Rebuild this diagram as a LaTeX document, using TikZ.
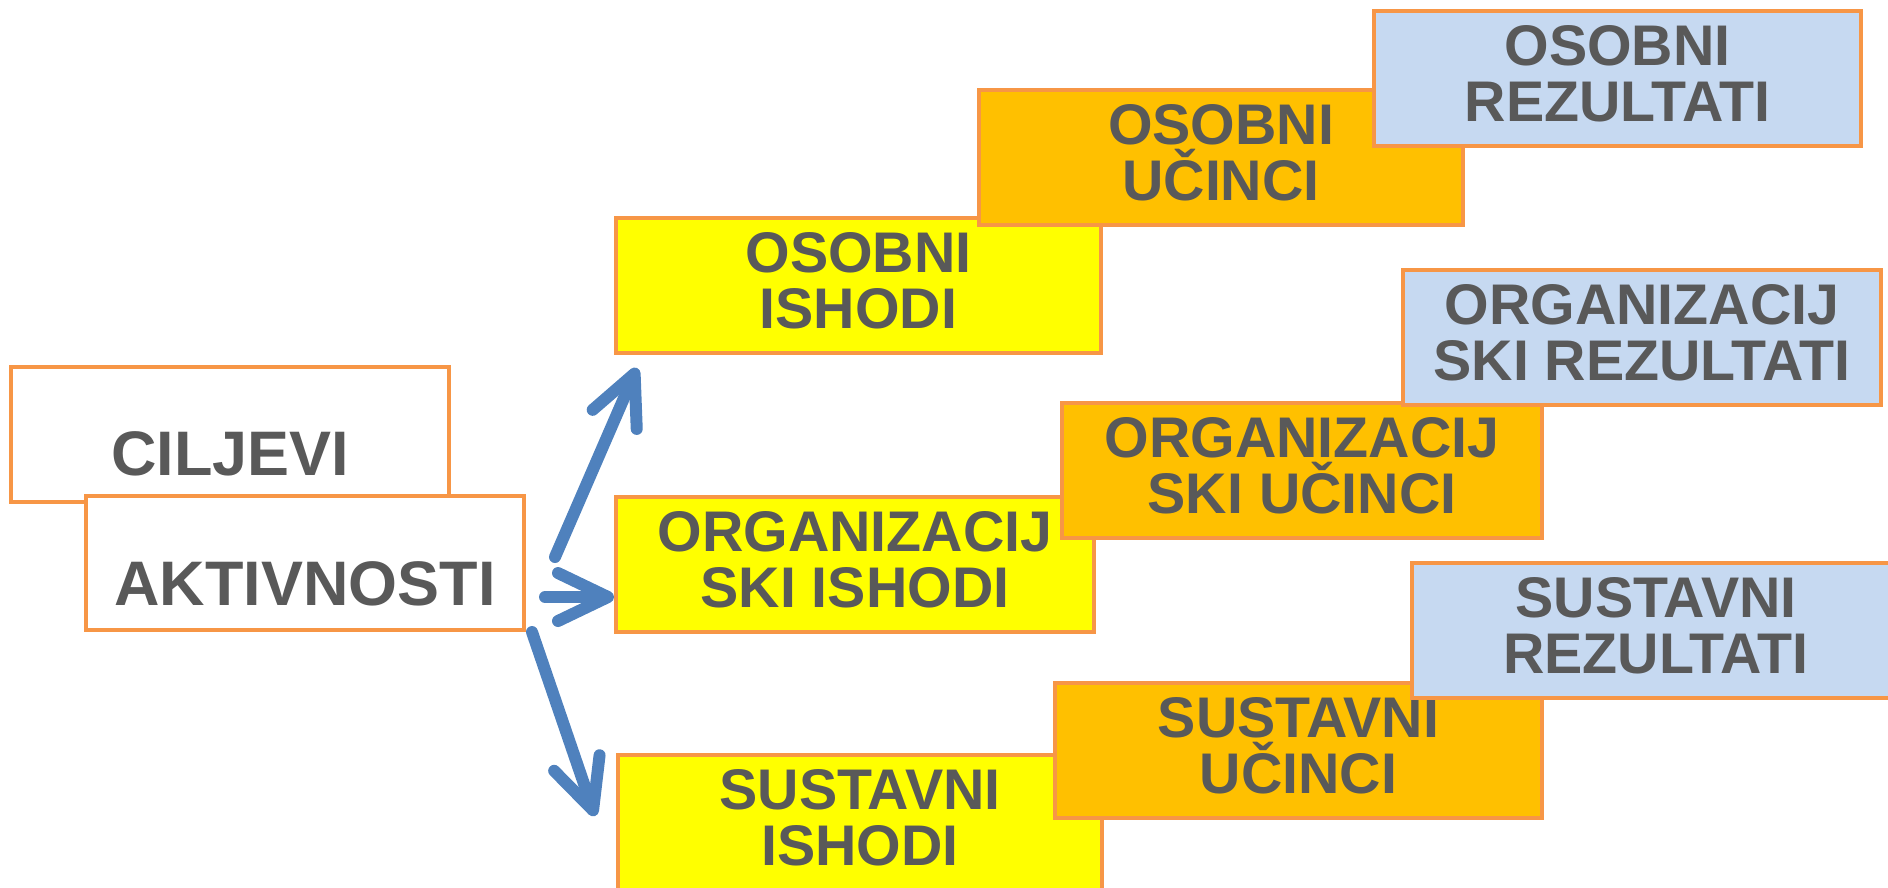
\documentclass[tikz,border=0pt]{standalone}
\usepackage{fontspec}
\setmainfont{Liberation Sans}
\usetikzlibrary{positioning,arrows.meta}

\definecolor{rub}{HTML}{F79646}
\definecolor{zuta}{HTML}{FFFF00}
\definecolor{narancasta}{HTML}{FFC000}
\definecolor{plava}{HTML}{C6D9F1}
\definecolor{strelica}{HTML}{4F81BD}
\definecolor{siva}{HTML}{595959}

\tikzset{
  okvir/.style={draw=rub, line width=0.4mm, outer sep=0pt, anchor=north west, minimum height=13.5mm},
  ishod/.style={okvir, fill=zuta},
  ucinak/.style={okvir, fill=narancasta},
  rezultat/.style={okvir, fill=plava},
  natpis/.style={inner sep=0pt, align=center, text=siva, font=\bfseries\fontsize{16.3}{15.9}\selectfont},
  veliki/.style={natpis, font=\bfseries\fontsize{17.9}{20}\selectfont},
  tok/.style={->, draw=strelica, line width=1.2mm, line cap=round}
}

\begin{document}
\begin{tikzpicture}[x=0.1mm,y=-0.1mm,>={Straight Barb[length=5mm,width=4.8mm,round]}]

\useasboundingbox (0,0) rectangle (1888,887);

% Ciljevi i aktivnosti
\node[okvir, fill=white, minimum width=43.8mm] (cilj) at (11,367) {};
\node[veliki, below=6.4mm of cilj.north] (cilj_t) {CILJEVI};
\node[okvir, fill=white, minimum width=43.8mm, minimum height=13.4mm] (akt) at (86,496) {};
\node[veliki, below=6.5mm of akt.north] (akt_t) {AKTIVNOSTI};

% Ishodi, ucinci, rezultati
\foreach \ime/\stil/\x/\y/\sir/\tekst in {
  oi/ishod/616/218/48.5/{OSOBNI\\ISHODI},
  ogi/ishod/616/497/47.8/{ORGANIZACIJ\\SKI ISHODI},
  si/ishod/618/755/48.4/{SUSTAVNI\\ISHODI},
  ou/ucinak/979/90/48.4/{OSOBNI\\UČINCI},
  ogu/ucinak/1062/403/48.0/{ORGANIZACIJ\\SKI UČINCI},
  su/ucinak/1055/683/48.7/{SUSTAVNI\\UČINCI},
  or/rezultat/1374/11/48.7/{OSOBNI\\REZULTATI},
  ogr/rezultat/1403/270/47.8/{ORGANIZACIJ\\SKI REZULTATI},
  sr/rezultat/1412/563/48.8/{SUSTAVNI\\REZULTATI}}
{
  \node[\stil, minimum width=\sir mm] (\ime) at (\x,\y) {};
  \node[natpis, below=1.35mm of \ime.north] (\ime_t) {\tekst};
}

% Strelice
\coordinate (p_1) at (555,557);
\coordinate (p_11) at (637,368);
\coordinate (p_2) at (545,597);
\coordinate (p_22) at (614,597);
\coordinate (p_3) at (532,632);
\coordinate (p_33) at (595,816);

\draw[tok] (p_1) -- (p_11);
\draw[tok] (p_2) -- (p_22);
\draw[tok] (p_3) -- (p_33);

\end{tikzpicture}
\end{document}
